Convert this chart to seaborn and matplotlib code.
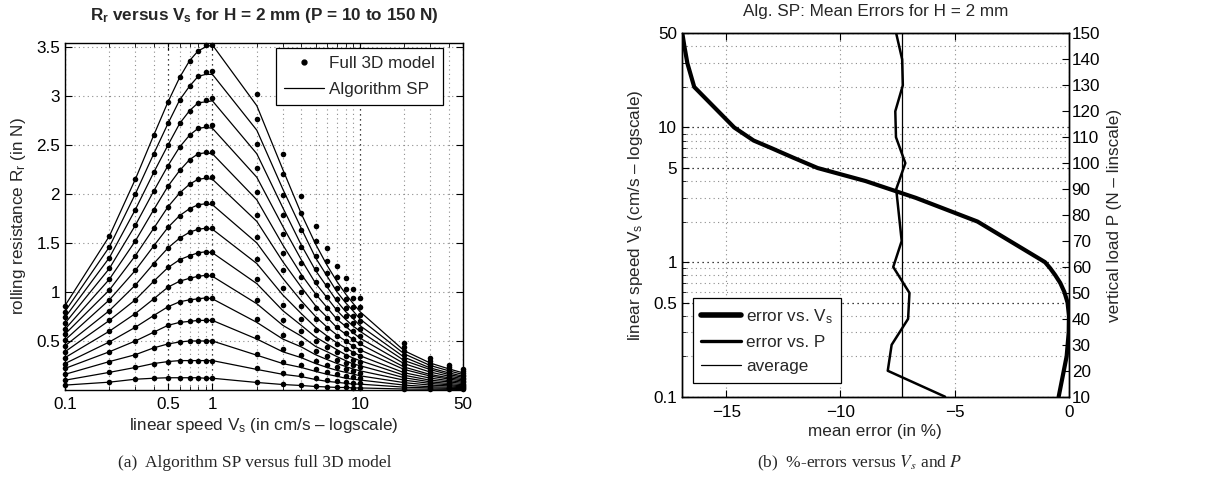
import numpy as np
import pandas as pd
import seaborn as sns
import matplotlib.pyplot as plt
from matplotlib.lines import Line2D
from matplotlib.ticker import FixedLocator, NullFormatter

# speeds (cm/s) and vertical loads (N)
speeds = [0.1, 0.2, 0.3, 0.4, 0.5, 0.6, 0.7, 0.8, 0.9, 1, 2, 3, 4, 5, 6, 7, 8, 9, 10, 20, 30, 40, 50]
loads = [10, 20, 30, 40, 50, 60, 70, 80, 90, 100, 110, 120, 130, 140, 150]

# rolling resistance, full 3D model: one row per speed, values for P = 10 ... 150
rr_full3d = [
    [0.05, 0.10, 0.16, 0.22, 0.27, 0.33, 0.39, 0.45, 0.51, 0.57, 0.62, 0.68, 0.74, 0.80, 0.86],
    [0.08, 0.18, 0.29, 0.39, 0.49, 0.60, 0.71, 0.81, 0.92, 1.02, 1.13, 1.24, 1.35, 1.46, 1.57],
    [0.11, 0.23, 0.36, 0.50, 0.64, 0.78, 0.92, 1.07, 1.22, 1.37, 1.52, 1.68, 1.84, 2.00, 2.15],
    [0.12, 0.27, 0.43, 0.59, 0.76, 0.93, 1.11, 1.29, 1.47, 1.65, 1.84, 2.03, 2.22, 2.41, 2.60],
    [0.125, 0.29, 0.47, 0.66, 0.85, 1.05, 1.25, 1.45, 1.66, 1.87, 2.08, 2.29, 2.50, 2.72, 2.94],
    [0.125, 0.30, 0.49, 0.69, 0.90, 1.11, 1.33, 1.55, 1.78, 2.01, 2.24, 2.48, 2.72, 2.96, 3.19],
    [0.125, 0.30, 0.50, 0.70, 0.92, 1.14, 1.37, 1.61, 1.85, 2.10, 2.35, 2.60, 2.85, 3.10, 3.36],
    [0.125, 0.30, 0.50, 0.71, 0.93, 1.16, 1.40, 1.64, 1.89, 2.15, 2.41, 2.67, 2.93, 3.20, 3.46],
    [0.12, 0.30, 0.50, 0.71, 0.94, 1.17, 1.41, 1.65, 1.91, 2.17, 2.43, 2.69, 2.96, 3.24, 3.52],
    [0.12, 0.30, 0.50, 0.71, 0.94, 1.17, 1.41, 1.65, 1.91, 2.17, 2.43, 2.70, 2.98, 3.25, 3.52],
    [0.08, 0.22, 0.37, 0.54, 0.72, 0.92, 1.13, 1.34, 1.56, 1.79, 2.02, 2.26, 2.51, 2.76, 3.02],
    [0.06, 0.17, 0.29, 0.42, 0.56, 0.71, 0.87, 1.04, 1.22, 1.40, 1.59, 1.79, 1.99, 2.20, 2.41],
    [0.05, 0.15, 0.25, 0.36, 0.48, 0.60, 0.72, 0.86, 1.00, 1.15, 1.30, 1.46, 1.63, 1.81, 1.98],
    [0.04, 0.12, 0.21, 0.30, 0.40, 0.50, 0.61, 0.72, 0.84, 0.97, 1.10, 1.23, 1.37, 1.52, 1.67],
    [0.035, 0.10, 0.18, 0.26, 0.35, 0.44, 0.53, 0.63, 0.73, 0.84, 0.95, 1.07, 1.19, 1.32, 1.45],
    [0.03, 0.09, 0.16, 0.23, 0.31, 0.39, 0.47, 0.55, 0.64, 0.73, 0.83, 0.93, 1.04, 1.15, 1.27],
    [0.03, 0.08, 0.14, 0.21, 0.28, 0.35, 0.42, 0.50, 0.58, 0.66, 0.75, 0.84, 0.93, 1.03, 1.14],
    [0.025, 0.07, 0.13, 0.19, 0.25, 0.31, 0.38, 0.45, 0.52, 0.60, 0.68, 0.76, 0.85, 0.94, 1.03],
    [0.025, 0.07, 0.12, 0.17, 0.23, 0.29, 0.35, 0.41, 0.48, 0.55, 0.62, 0.70, 0.77, 0.85, 0.94],
    [0.012, 0.035, 0.06, 0.09, 0.12, 0.15, 0.18, 0.21, 0.25, 0.28, 0.32, 0.36, 0.40, 0.44, 0.48],
    [0.01, 0.025, 0.04, 0.06, 0.08, 0.10, 0.12, 0.145, 0.17, 0.19, 0.22, 0.25, 0.27, 0.30, 0.33],
    [0.008, 0.02, 0.035, 0.05, 0.065, 0.08, 0.10, 0.115, 0.135, 0.15, 0.17, 0.19, 0.21, 0.235, 0.26],
    [0.007, 0.018, 0.03, 0.04, 0.05, 0.065, 0.08, 0.095, 0.11, 0.125, 0.14, 0.155, 0.17, 0.19, 0.21],
]

# rolling resistance, algorithm SP (same layout)
rr_alg_sp = [
    [0.05, 0.10, 0.16, 0.22, 0.27, 0.33, 0.39, 0.45, 0.51, 0.57, 0.62, 0.68, 0.74, 0.80, 0.86],
    [0.08, 0.18, 0.29, 0.39, 0.49, 0.60, 0.71, 0.81, 0.92, 1.02, 1.13, 1.24, 1.35, 1.46, 1.57],
    [0.11, 0.23, 0.36, 0.50, 0.64, 0.78, 0.92, 1.07, 1.22, 1.37, 1.52, 1.68, 1.84, 2.00, 2.15],
    [0.12, 0.27, 0.43, 0.59, 0.76, 0.93, 1.11, 1.29, 1.47, 1.65, 1.84, 2.03, 2.22, 2.41, 2.60],
    [0.125, 0.29, 0.47, 0.66, 0.85, 1.05, 1.25, 1.45, 1.66, 1.87, 2.08, 2.29, 2.50, 2.72, 2.94],
    [0.125, 0.30, 0.49, 0.69, 0.90, 1.11, 1.33, 1.55, 1.78, 2.01, 2.24, 2.48, 2.72, 2.96, 3.19],
    [0.125, 0.30, 0.50, 0.70, 0.92, 1.14, 1.37, 1.61, 1.85, 2.10, 2.35, 2.60, 2.85, 3.10, 3.36],
    [0.125, 0.30, 0.50, 0.71, 0.93, 1.16, 1.40, 1.64, 1.89, 2.15, 2.41, 2.67, 2.93, 3.20, 3.46],
    [0.12, 0.30, 0.50, 0.71, 0.94, 1.17, 1.41, 1.65, 1.90, 2.16, 2.42, 2.68, 2.94, 3.22, 3.50],
    [0.12, 0.30, 0.50, 0.71, 0.93, 1.16, 1.40, 1.64, 1.89, 2.15, 2.41, 2.67, 2.95, 3.22, 3.52],
    [0.077, 0.21, 0.355, 0.52, 0.69, 0.88, 1.085, 1.29, 1.50, 1.72, 1.94, 2.17, 2.41, 2.65, 2.90],
    [0.056, 0.16, 0.27, 0.39, 0.52, 0.66, 0.81, 0.97, 1.14, 1.31, 1.48, 1.67, 1.86, 2.05, 2.25],
    [0.046, 0.137, 0.23, 0.33, 0.44, 0.55, 0.66, 0.78, 0.91, 1.05, 1.18, 1.33, 1.48, 1.65, 1.80],
    [0.036, 0.107, 0.19, 0.27, 0.36, 0.445, 0.54, 0.64, 0.75, 0.86, 0.98, 1.09, 1.22, 1.35, 1.49],
    [0.031, 0.088, 0.16, 0.23, 0.31, 0.39, 0.47, 0.55, 0.64, 0.74, 0.84, 0.94, 1.05, 1.16, 1.27],
    [0.026, 0.078, 0.14, 0.20, 0.27, 0.34, 0.41, 0.48, 0.56, 0.635, 0.72, 0.81, 0.905, 1.00, 1.105],
    [0.026, 0.069, 0.12, 0.18, 0.24, 0.30, 0.36, 0.43, 0.50, 0.57, 0.65, 0.72, 0.80, 0.89, 0.98],
    [0.021, 0.06, 0.11, 0.163, 0.214, 0.266, 0.326, 0.386, 0.446, 0.515, 0.583, 0.652, 0.729, 0.806, 0.883],
    [0.021, 0.06, 0.102, 0.145, 0.196, 0.248, 0.30, 0.35, 0.41, 0.47, 0.53, 0.60, 0.657, 0.725, 0.80],
    [0.01, 0.029, 0.05, 0.075, 0.10, 0.125, 0.15, 0.176, 0.209, 0.234, 0.268, 0.30, 0.334, 0.368, 0.40],
    [0.008, 0.021, 0.033, 0.05, 0.067, 0.083, 0.10, 0.121, 0.142, 0.158, 0.183, 0.208, 0.225, 0.25, 0.275],
    [0.007, 0.017, 0.029, 0.042, 0.054, 0.067, 0.083, 0.096, 0.112, 0.125, 0.141, 0.158, 0.175, 0.196, 0.216],
    [0.006, 0.015, 0.025, 0.033, 0.042, 0.054, 0.066, 0.079, 0.091, 0.104, 0.116, 0.129, 0.141, 0.158, 0.175],
]

# mean errors (%) of algorithm SP
err_vs_speed = [-0.45, -0.10, -0.01, 0.0, -0.06, -0.20, -0.38, -0.60, -0.82, -1.05,
                -4.0, -6.7, -8.9, -11.0, -12.1, -13.0, -13.8, -14.25, -14.65,
                -16.4, -16.7, -16.83, -16.92]
err_vs_load = [-5.42, -7.93, -7.76, -7.04, -6.98, -7.69, -7.32, -7.44, -7.56, -7.16,
               -7.57, -7.6, -7.27, -7.3, -7.56]
avg_error = -7.3

x_major = [0.1, 0.5, 1, 10, 50]
x_minor = [0.2, 0.3, 0.4, 0.6, 0.7, 0.8, 0.9, 2, 3, 4, 5, 6, 7, 8, 9, 20, 30, 40]
rr_ticks = [0.5, 1, 1.5, 2, 2.5, 3, 3.5]
vs_major = [0.1, 0.5, 1, 5, 10, 50]
vs_minor = [0.2, 0.3, 0.4, 0.6, 0.7, 0.8, 0.9, 2, 3, 4, 6, 7, 8, 9, 20, 30, 40]
err_ticks = [-15, -10, -5, 0]
load_ticks = list(range(10, 151, 10))

sns.set_style('ticks')
plt.rcParams['font.family'] = ['Liberation Sans', 'DejaVu Sans']
plt.rcParams['mathtext.fontset'] = 'custom'
plt.rcParams['mathtext.rm'] = 'Liberation Sans'
plt.rcParams['mathtext.it'] = 'Liberation Sans:italic'
plt.rcParams['mathtext.bf'] = 'Liberation Sans:bold'
plt.rcParams['axes.linewidth'] = 1.0
plt.rcParams['axes.edgecolor'] = 'black'

FS = 12.3
DOT = (0, (1, 3))

df_3d = pd.DataFrame([(s, p, rr_full3d[i][j]) for i, s in enumerate(speeds) for j, p in enumerate(loads)],
                     columns=['speed', 'load', 'rr'])
df_sp = pd.DataFrame([(s, p, rr_alg_sp[i][j]) for i, s in enumerate(speeds) for j, p in enumerate(loads)],
                     columns=['speed', 'load', 'rr'])

fig = plt.figure(figsize=(12.19, 4.91), dpi=100)
ax1 = fig.add_axes([0.0533, 0.2057, 0.3265, 0.7067])
ax2 = fig.add_axes([0.5592, 0.192, 0.3177, 0.740])
ax3 = ax2.twinx()


def style_axes(ax):
    ax.tick_params(which='both', direction='in', labelsize=FS, colors='k')
    ax.tick_params(which='major', length=5, width=0.8)
    ax.tick_params(which='minor', length=3, width=0.6)
    for sp in ax.spines.values():
        sp.set_visible(True)
        sp.set_color('k')
        sp.set_linewidth(1.0)


# ---- (a) Rr versus Vs ----
ax1.set_xscale('log')
sns.lineplot(data=df_sp, x='speed', y='rr', units='load', estimator=None, color='k',
             lw=0.9, legend=False, ax=ax1, zorder=3)
sns.scatterplot(data=df_3d, x='speed', y='rr', color='k', s=16, linewidth=0,
                legend=False, ax=ax1, zorder=4, clip_on=False)
ax1.set_xlim(0.1, 50)
ax1.set_ylim(0, 3.54)
ax1.xaxis.set_major_locator(FixedLocator(x_major))
ax1.xaxis.set_minor_locator(FixedLocator(x_minor))
ax1.xaxis.set_minor_formatter(NullFormatter())
ax1.set_xticklabels(['0.1', '0.5', '1', '10', '50'])
ax1.set_yticks(rr_ticks)
ax1.set_yticklabels(['0.5', '1', '1.5', '2', '2.5', '3', '3.5'])
style_axes(ax1)
ax1.tick_params(which='both', top=True, right=True)
ax1.tick_params(axis='x', which='major', pad=5)
ax1.grid(which='major', axis='x', color='k', ls=DOT, lw=0.9)
ax1.grid(which='minor', axis='x', color='0.55', ls=DOT, lw=0.8)
ax1.grid(which='major', axis='y', color='0.55', ls=DOT, lw=0.8)
ax1.set_axisbelow(True)
ax1.set_xlabel(r'linear speed V$_\mathregular{s}$ (in cm/s – logscale)', fontsize=FS, labelpad=3)
ax1.set_ylabel(r'rolling resistance R$_\mathregular{r}$ (in N)', fontsize=FS, labelpad=6)
ax1.text(0.5, 1.065, r'R$_\mathbf{r}$ versus V$_\mathbf{s}$ for H = 2 mm (P = 10 to 150 N)',
         transform=ax1.transAxes, ha='center', va='baseline', fontsize=FS, fontweight='bold')
h1 = [Line2D([], [], color='k', marker='.', ls='none', markersize=7),
      Line2D([], [], color='k', lw=0.9)]
leg1 = ax1.legend(h1, ['Full 3D model', 'Algorithm SP'], loc='upper right',
                  bbox_to_anchor=(0.95, 0.986), borderaxespad=0, fontsize=FS,
                  fancybox=False, framealpha=1, edgecolor='k', handlelength=2.3,
                  handletextpad=0.3, borderpad=0.5, labelspacing=0.6)
leg1.get_frame().set_linewidth(0.9)

# ---- (b) mean errors ----
ax2.set_yscale('log')
sns.lineplot(x=err_vs_speed, y=speeds, sort=False, estimator=None, color='k', lw=3.0,
             ax=ax2, legend=False)
ax2.set_xlim(-16.95, 0)
ax2.set_ylim(0.1, 50)
ax2.yaxis.set_major_locator(FixedLocator(vs_major))
ax2.yaxis.set_minor_locator(FixedLocator(vs_minor))
ax2.yaxis.set_minor_formatter(NullFormatter())
ax2.set_yticklabels(['0.1', '0.5', '1', '5', '10', '50'])
ax2.set_xticks(err_ticks)
ax2.set_xticklabels(['−15', '−10', '−5', '0'])
style_axes(ax2)
ax2.tick_params(which='both', top=True, right=False)
ax2.tick_params(axis='x', which='major', pad=6)
ax2.grid(which='major', axis='y', color='k', ls=DOT, lw=0.9)
ax2.grid(which='minor', axis='y', color='0.55', ls=DOT, lw=0.8)
ax2.grid(which='major', axis='x', color='0.55', ls=DOT, lw=0.8)
ax2.set_axisbelow(True)
ax2.set_xlabel('mean error (in %)', fontsize=FS, labelpad=3)
ax2.set_ylabel(r'linear speed V$_\mathregular{s}$ (cm/s – logscale)', fontsize=FS, labelpad=6)
ax2.text(0.5, 1.048, 'Alg. SP: Mean Errors for H = 2 mm', transform=ax2.transAxes,
         ha='center', va='baseline', fontsize=FS)

sns.lineplot(x=err_vs_load, y=loads, sort=False, estimator=None, color='k', lw=1.8,
             ax=ax3, legend=False)
ax3.axvline(avg_error, color='k', lw=0.9)
ax3.set_ylim(10, 150)
ax3.set_yticks(load_ticks)
style_axes(ax3)
ax3.tick_params(which='both', left=False, right=True, top=False, pad=2)
ax3.set_ylabel('vertical load P (N – linscale)', fontsize=FS, labelpad=5)
h2 = [Line2D([], [], color='k', lw=4.0), Line2D([], [], color='k', lw=2.4),
      Line2D([], [], color='k', lw=0.9)]
leg2 = ax3.legend(h2, [r'error vs. V$_\mathregular{s}$', 'error vs. P', 'average'],
                  loc='lower left', bbox_to_anchor=(0.029, 0.038), borderaxespad=0,
                  fontsize=FS, fancybox=False, framealpha=1, edgecolor='k',
                  handlelength=2.3, handletextpad=0.3, borderpad=0.5, labelspacing=0.55)
leg2.get_frame().set_linewidth(0.9)

# captions
fig.text(0.209, 0.049, '(a)  Algorithm SP versus full 3D model', ha='center', va='baseline',
         fontsize=12.5, family=['Liberation Serif', 'DejaVu Serif'])
fig.text(0.705, 0.049, r'(b)  %-errors versus $V_s$ and $P$', ha='center', va='baseline',
         fontsize=12.5, family=['Liberation Serif', 'DejaVu Serif'], math_fontfamily='stix')

fig.savefig('out.png', dpi=100)
